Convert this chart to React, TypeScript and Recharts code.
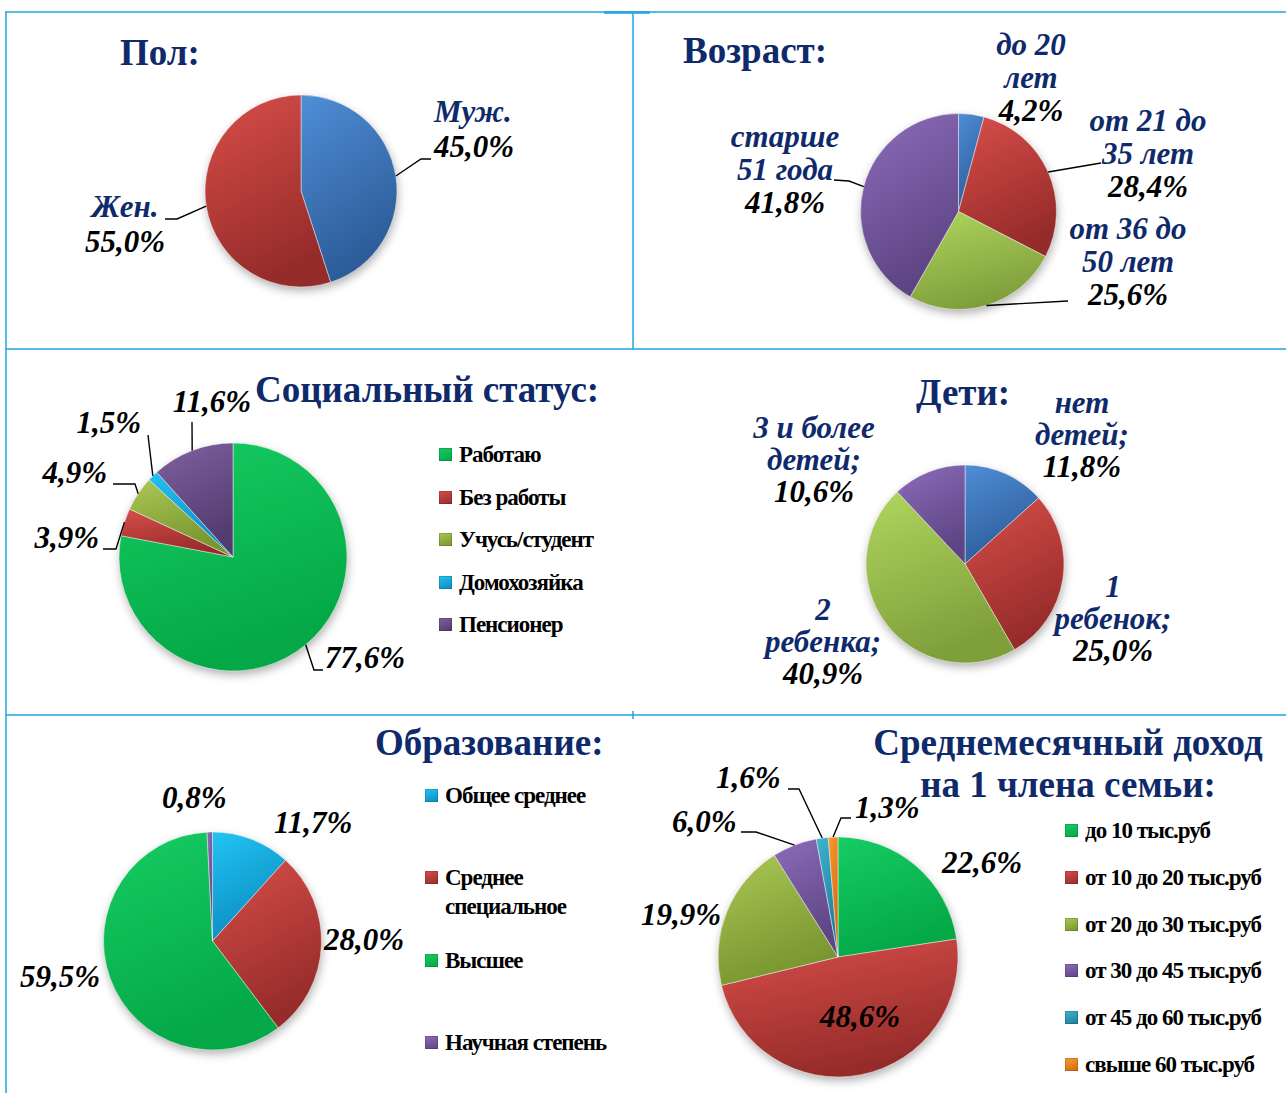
import React from 'react'
import { PieChart, Pie, Cell, Legend } from 'recharts'

// --- data ---
const genderNames = ['Муж.', 'Жен.']
const genderValues = [45.0, 55.0]

const ageNames = ['до 20 лет', 'от 21 до 35 лет', 'от 36 до 50 лет', 'старше 51 года']
const ageValues = [4.2, 28.4, 25.6, 41.8]

const statusNames = ['Работаю', 'Без работы', 'Учусь/студент', 'Домохозяйка', 'Пенсионер']
const statusValues = [77.6, 3.9, 4.9, 1.5, 11.6]

const kidsNames = ['нет детей', '1 ребенок', '2 ребенка', '3 и более детей']
const kidsValues = [11.8, 25.0, 40.9, 10.6]

const eduNames = ['Общее среднее', 'Среднее специальное', 'Высшее', 'Научная степень']
const eduValues = [11.7, 28.0, 59.5, 0.8]

const incomeNames = [
  'до 10 тыс.руб',
  'от 10 до 20 тыс.руб',
  'от 20 до 30 тыс.руб',
  'от 30 до 45 тыс.руб',
  'от 45 до 60 тыс.руб',
  'свыше 60 тыс.руб',
]
const incomeValues = [22.6, 48.6, 19.9, 6.0, 1.6, 1.3]

// --- look ---
const FONT = '"Liberation Serif", "Times New Roman", serif'
const NAVY = '#0f2a6b'
const BORDER = '#1fa5df'

const SHADES: Record<string, [string, string]> = {
  blue: ['#4f8ed6', '#2c5b98'],
  red: ['#d84e4a', '#962c2a'],
  lime: ['#b0d65e', '#7f9f3b'],
  violet: ['#8d6cba', '#5d4483'],
  green: ['#16cc63', '#04a846'],
  olive: ['#aac755', '#78952f'],
  cyan: ['#22c4f2', '#0b8cc2'],
  plum: ['#80619f', '#523b70'],
  teal: ['#3fb4d2', '#1d7c98'],
  orange: ['#f99a30', '#cf6a0e'],
}

const genderColors = ['blue', 'red']
const ageColors = ['blue', 'red', 'lime', 'violet']
const statusColors = ['green', 'red', 'olive', 'cyan', 'plum']
const kidsColors = ['blue', 'red', 'lime', 'violet']
const eduColors = ['cyan', 'red', 'green', 'violet']
const incomeColors = ['green', 'red', 'olive', 'violet', 'teal', 'orange']

type Spot = { x: number; y: number; anchor?: 'start' | 'middle' | 'end'; path?: [number, number][] }

const toRows = (names: string[], values: number[]) => names.map((name, i) => ({ name, value: values[i] }))
const fmt = (v: number) => Number(v).toFixed(1).replace('.', ',') + '%'

const wrapWords = (s: string, max: number) => {
  const out: string[] = []
  let cur = ''
  s.split(' ').forEach((w) => {
    const next = cur ? cur + ' ' + w : w
    if (next.length > max && cur) {
      out.push(cur)
      cur = w
    } else cur = next
  })
  if (cur) out.push(cur)
  return out
}

const RAD = Math.PI / 180

const makeLabel =
  (spots: Spot[], nameLines: ((n: string) => string[]) | null, lineH: number) => (p: any) => {
    const s = spots[p.index]
    if (!s) return null
    const ex = p.cx + p.outerRadius * Math.cos(-p.midAngle * RAD)
    const ey = p.cy + p.outerRadius * Math.sin(-p.midAngle * RAD)
    const nameList = nameLines ? nameLines(String(p.name ?? '')) : []
    const lines = nameList.map((t) => ({ t, c: NAVY })).concat([{ t: fmt(p.value), c: '#000' }])
    const pts = s.path ? [[ex, ey] as [number, number]].concat(s.path) : null
    return (
      <g key={'lab-' + p.index}>
        {pts && (
          <polyline
            points={pts.map((q) => q.join(',')).join(' ')}
            fill="none"
            stroke="#000"
            strokeWidth={1.4}
          />
        )}
        <text
          x={s.x}
          y={s.y}
          textAnchor={s.anchor ?? 'middle'}
          fontFamily={FONT}
          fontSize={31}
          fontStyle="italic"
          fontWeight="bold"
        >
          {lines.map((l, i) => (
            <tspan key={i} x={s.x} dy={i === 0 ? 0 : lineH} fill={l.c}>
              {l.t}
            </tspan>
          ))}
        </text>
      </g>
    )
  }

type LegendCfg = { left: number; top: number; rowH: number; textW?: number }

const makeLegend = (names: string[], colors: string[], cfg: LegendCfg) => (props: any) => {
  // keep the slice order, not the legend's own sort
  const items = (props && Array.isArray(props.payload) ? props.payload : [])
    .filter((e: any) => e && e.type !== 'none' && names.includes(String(e.value)))
    .sort((a: any, b: any) => names.indexOf(String(a.value)) - names.indexOf(String(b.value)))
  return (
    <div>
      {items.map((e: any, i: number) => {
        const idx = names.indexOf(String(e.value))
        const shade = SHADES[colors[idx]] || ['#999', '#666']
        return (
          <div key={i} style={{ display: 'flex', alignItems: 'flex-start', height: cfg.rowH }}>
            <span
              style={{
                flex: 'none',
                width: 13,
                height: 13,
                marginTop: 8,
                marginRight: 7,
                background: `linear-gradient(160deg, ${shade[0]}, ${shade[1]})`,
                boxShadow: 'inset 0 0 0 1px rgba(0,0,0,0.15)',
              }}
            />
            <span
              style={{
                fontFamily: FONT,
                fontSize: 23,
                fontWeight: 'bold',
                letterSpacing: -1,
                lineHeight: '29px',
                color: '#000',
                width: cfg.textW,
              }}
            >
              {e.value}
            </span>
          </div>
        )
      })}
    </div>
  )
}

type PanelProps = {
  box: [number, number, number, number]
  names: string[]
  values: number[]
  colors: string[]
  pie: [number, number, number]
  spots: Spot[]
  nameLines: ((n: string) => string[]) | null
  lineH?: number
  legend?: LegendCfg
}

const PiePanel = ({ box, names, values, colors, pie, spots, nameLines, lineH = 33, legend }: PanelProps) => {
  const rows = toRows(names, values)
  return (
    <div style={{ position: 'absolute', left: box[0], top: box[1] }}>
      <PieChart width={box[2]} height={box[3]} margin={{ top: 0, right: 0, bottom: 0, left: 0 }}>
        <Pie
          data={rows}
          dataKey="value"
          nameKey="name"
          cx={pie[0] + 1}
          cy={pie[1] + 4}
          outerRadius={pie[2]}
          startAngle={90}
          endAngle={-270}
          fill="#000"
          fillOpacity={0.3}
          stroke="none"
          className="pie-shadow"
          legendType="none"
          isAnimationActive={false}
        />
        <Pie
          data={rows}
          dataKey="value"
          nameKey="name"
          cx={pie[0]}
          cy={pie[1]}
          outerRadius={pie[2]}
          startAngle={90}
          endAngle={-270}
          stroke="rgba(255,255,255,0.45)"
          strokeWidth={1}
          labelLine={false}
          label={makeLabel(spots, nameLines, lineH)}
          isAnimationActive={false}
        >
          {rows.map((_, i) => (
            <Cell key={i} fill={`url(#g-${colors[i]})`} />
          ))}
        </Pie>
        {legend && (
          <Legend
            content={makeLegend(names, colors, legend)}
            wrapperStyle={{ left: legend.left, top: legend.top, width: 240, height: 'auto' }}
          />
        )}
      </PieChart>
    </div>
  )
}

const Title = ({ x, y, children, anchor = 'start' }: any) => (
  <text x={x} y={y} textAnchor={anchor} fontFamily={FONT} fontSize={37} fontWeight="bold" fill={NAVY}>
    {children}
  </text>
)

export default function App() {
  return (
    <div
      style={{
        position: 'absolute',
        left: 0,
        top: 0,
        width: 1286,
        height: 1093,
        background: '#fff',
        overflow: 'hidden',
      }}
    >
      <style>{`.pie-shadow { filter: url(#soft); }`}</style>
      <svg width={1286} height={1093} style={{ position: 'absolute', left: 0, top: 0 }}>
        <defs>
          {Object.keys(SHADES).map((k) => (
            <linearGradient key={k} id={'g-' + k} x1="0" y1="0" x2="0.35" y2="1">
              <stop offset="0" stopColor={SHADES[k][0]} />
              <stop offset="1" stopColor={SHADES[k][1]} />
            </linearGradient>
          ))}
          <filter id="soft" x="-20%" y="-20%" width="140%" height="140%">
            <feGaussianBlur stdDeviation="3" />
          </filter>
        </defs>
        {/* grid frame */}
        <g stroke={BORDER} strokeWidth={1.5}>
          <line x1={5} y1={12} x2={1286} y2={12} />
          <line x1={604} y1={12.5} x2={650} y2={12.5} strokeWidth={2.5} />
          <line x1={6} y1={12} x2={6} y2={1093} />
          <line x1={633} y1={12} x2={633} y2={349} />
          <line x1={6} y1={349} x2={1286} y2={349} />
          <line x1={6} y1={715} x2={1286} y2={715} />
          <line x1={633} y1={711} x2={633} y2={719} />
        </g>
        <Title x={120} y={65}>Пол:</Title>
        <Title x={683} y={63}>Возраст:</Title>
        <Title x={255} y={402}>Социальный статус:</Title>
        <Title x={916} y={405}>Дети:</Title>
        <Title x={375} y={755}>Образование:</Title>
        <Title x={1068} y={755} anchor="middle">Среднемесячный доход</Title>
        <Title x={1068} y={797} anchor="middle">на 1 члена семьи:</Title>
      </svg>

      <PiePanel
        box={[0, 0, 633, 349]}
        names={genderNames}
        values={genderValues}
        colors={genderColors}
        pie={[301, 191, 96]}
        nameLines={(n) => [n]}
        lineH={35}
        spots={[
          { x: 434, y: 122, anchor: 'start', path: [[421, 159], [431, 159]] },
          { x: 125, y: 217, path: [[177, 219], [165, 219]] },
        ]}
      />

      <PiePanel
        box={[633, 0, 653, 349]}
        names={ageNames}
        values={ageValues}
        colors={ageColors}
        pie={[325.5, 211.5, 98]}
        nameLines={(n) => wrapWords(n, 8)}
        spots={[
          { x: 398, y: 55 },
          { x: 515, y: 131, path: [[468, 163]] },
          { x: 495, y: 239, path: [[435, 301]] },
          { x: 152, y: 147, path: [[216, 181], [201, 180]] },
        ]}
      />

      <PiePanel
        box={[0, 349, 633, 366]}
        names={statusNames}
        values={statusValues}
        colors={statusColors}
        pie={[233, 208, 114]}
        nameLines={null}
        spots={[
          { x: 325, y: 319, anchor: 'start', path: [[314, 321], [323, 321]] },
          { x: 99, y: 199, anchor: 'end', path: [[116, 200], [103, 200]] },
          { x: 107, y: 134, anchor: 'end', path: [[135, 135], [113, 135]] },
          { x: 141, y: 84, anchor: 'end', path: [[148, 86]] },
          { x: 251, y: 63, anchor: 'end', path: [[192, 73]] },
        ]}
        legend={{ left: 439, top: 91, rowH: 42.5 }}
      />

      <PiePanel
        box={[633, 349, 653, 366]}
        names={kidsNames}
        values={kidsValues}
        colors={kidsColors}
        pie={[332, 215, 99]}
        nameLines={(n) => wrapWords(n + ';', 9)}
        lineH={32}
        spots={[
          { x: 449, y: 64 },
          { x: 480, y: 248 },
          { x: 190, y: 271 },
          { x: 181, y: 89 },
        ]}
      />

      <PiePanel
        box={[0, 715, 633, 378]}
        names={eduNames}
        values={eduValues}
        colors={eduColors}
        pie={[212.5, 226, 109]}
        nameLines={null}
        spots={[
          { x: 274, y: 118, anchor: 'start' },
          { x: 324, y: 235, anchor: 'start' },
          { x: 100, y: 272, anchor: 'end' },
          { x: 162, y: 93, anchor: 'start' },
        ]}
        legend={{ left: 425, top: 66, rowH: 82.3, textW: 175 }}
      />

      <PiePanel
        box={[633, 715, 653, 378]}
        names={incomeNames}
        values={incomeValues}
        colors={incomeColors}
        pie={[205, 242, 120]}
        nameLines={null}
        spots={[
          { x: 309, y: 158, anchor: 'start' },
          { x: 187, y: 312, anchor: 'start' },
          { x: 8, y: 210, anchor: 'start' },
          { x: 39, y: 117, anchor: 'start', path: [[123, 117], [108, 117]] },
          { x: 83, y: 73, anchor: 'start', path: [[166, 74], [155, 74]] },
          { x: 222, y: 103, anchor: 'start', path: [[208, 103], [218, 103]] },
        ]}
        legend={{ left: 432, top: 101, rowH: 46.8 }}
      />
    </div>
  )
}
